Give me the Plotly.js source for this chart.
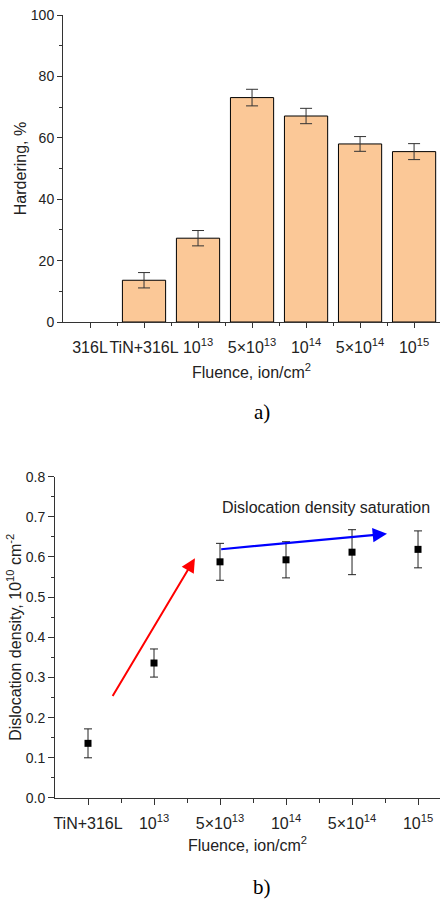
<!DOCTYPE html>
<html>
<head>
<meta charset="utf-8">
<script src="https://cdn.plot.ly/plotly-3.0.1.min.js"></script>
<style>
html,body{margin:0;padding:0;background:#fff;}
#chart{width:440px;height:904px;}
</style>
</head>
<body>
<div id="chart"></div>
<script>
// ---- data (a) Hardering ----
const hardCats = ['316L', 'TiN+316L', '10<sup>13</sup>', '5×10<sup>13</sup>', '10<sup>14</sup>', '5×10<sup>14</sup>', '10<sup>15</sup>'];
const hardVals = [null, 13.6, 27.3, 73.1, 67.1, 58.0, 55.5];
const hardErr  = [null, 2.5, 2.5, 2.7, 2.5, 2.4, 2.6];

// ---- data (b) Dislocation density ----
const dislCats = ['TiN+316L', '10<sup>13</sup>', '5×10<sup>13</sup>', '10<sup>14</sup>', '5×10<sup>14</sup>', '10<sup>15</sup>'];
const dislVals = [0.136, 0.336, 0.588, 0.593, 0.612, 0.619];
const dislErr  = [0.036, 0.035, 0.046, 0.045, 0.056, 0.046];

// arrows (data units of plot b): [start, end]
const redArrowX  = [0.36, 1.62];
const redArrowY  = [0.25, 0.597];
const blueArrowX = [1.995, 4.53];
const blueArrowY = [0.619, 0.658];
const satLabel = 'Dislocation density saturation';

const FONT = 'Arial, "Liberation Sans", sans-serif';
const AX = '#333';
const hardX = hardCats.map((c, i) => i);
const dislX = dislCats.map((c, i) => i);

const traces = [
  {
    type: 'bar', x: hardX, y: hardVals, xaxis: 'x', yaxis: 'y', width: 0.8,
    marker: {color: '#FBC897', line: {color: '#000', width: 1}},
    error_y: {type: 'data', array: hardErr, visible: true, color: '#333', thickness: 1, width: 6},
    hoverinfo: 'skip'
  },
  {
    type: 'scatter', mode: 'markers', x: dislX, y: dislVals, xaxis: 'x2', yaxis: 'y2',
    marker: {symbol: 'square', size: 7, color: '#000'},
    error_y: {type: 'data', array: dislErr, visible: true, color: '#222', thickness: 1, width: 4},
    hoverinfo: 'skip'
  }
];

const commonAx = {
  showline: true, linecolor: AX, linewidth: 1, showgrid: false, zeroline: false,
  ticks: 'outside', tickcolor: AX, tickwidth: 1, fixedrange: true
};

const layout = {
  width: 440, height: 904,
  margin: {l: 0, r: 0, t: 0, b: 0},
  paper_bgcolor: '#fff', plot_bgcolor: '#fff',
  showlegend: false, bargap: 0.2,
  font: {family: FONT, color: '#222'},
  xaxis: Object.assign({}, commonAx, {
    domain: [63/440, 1], range: [-0.5, 6.48], anchor: 'y',
    tickmode: 'array', tickvals: hardX, ticktext: hardCats, ticklen: 5, tickangle: 0,
    tickfont: {size: 16, family: FONT, color: '#222'}, ticklabelstandoff: 6,
    minor: {tickmode: 'array', tickvals: hardX.map(i => i + 0.5), ticks: 'outside', ticklen: 3, tickcolor: AX, tickwidth: 1},
    title: {text: 'Fluence, ion/cm<sup>2</sup>', font: {size: 16, family: FONT, color: '#222'}, standoff: 11}
  }),
  yaxis: Object.assign({}, commonAx, {
    domain: [0.6438, 0.9834], range: [0, 100], anchor: 'x',
    tickmode: 'linear', tick0: 0, dtick: 20, ticklen: 5,
    tickfont: {size: 14, family: FONT, color: '#222'}, ticklabelstandoff: 0,
    minor: {dtick: 10, ticks: 'outside', ticklen: 3, tickcolor: AX, tickwidth: 1},
    title: {text: 'Hardering, %', font: {size: 16, family: FONT, color: '#222'}, standoff: 0}
  }),
  xaxis2: Object.assign({}, commonAx, {
    domain: [55/440, 1], range: [-0.5, 5.333], anchor: 'y2',
    tickmode: 'array', tickvals: dislX, ticktext: dislCats, ticklen: 6, tickangle: 0,
    tickfont: {size: 16, family: FONT, color: '#222'}, ticklabelstandoff: 5,
    minor: {tickmode: 'array', tickvals: dislX.map(i => i + 0.5), ticks: 'outside', ticklen: 4, tickcolor: AX, tickwidth: 1},
    title: {text: 'Fluence, ion/cm<sup>2</sup>', font: {size: 16, family: FONT, color: '#222'}, standoff: 8}
  }),
  yaxis2: Object.assign({}, commonAx, {
    domain: [0.1173, 0.4727], range: [0, 0.8], anchor: 'x2',
    tickmode: 'linear', tick0: 0, dtick: 0.1, ticklen: 6, tickformat: '.1f',
    tickfont: {size: 14, family: FONT, color: '#222'}, ticklabelstandoff: 0,
    minor: {dtick: 0.05, ticks: 'outside', ticklen: 3, tickcolor: AX, tickwidth: 1},
    title: {text: 'Dislocation density, 10<sup>10</sup> cm<sup>-2</sup>', font: {size: 16, family: FONT, color: '#222'}, standoff: 0}
  }),
  annotations: [
    {xref: 'x2', yref: 'y2', axref: 'x2', ayref: 'y2',
     x: redArrowX[1], y: redArrowY[1], ax: redArrowX[0], ay: redArrowY[0],
     showarrow: true, arrowcolor: '#FF0000', arrowwidth: 2, arrowhead: 2, arrowsize: 1.4, text: ''},
    {xref: 'x2', yref: 'y2', axref: 'x2', ayref: 'y2',
     x: blueArrowX[1], y: blueArrowY[1], ax: blueArrowX[0], ay: blueArrowY[0],
     showarrow: true, arrowcolor: '#0000FF', arrowwidth: 2.2, arrowhead: 2, arrowsize: 1.3, text: ''},
    {xref: 'x2', yref: 'y2', x: blueArrowX[0], y: 0.722, xanchor: 'left', yanchor: 'middle',
     text: satLabel, showarrow: false, font: {size: 16, family: FONT, color: '#222'}},
    {xref: 'paper', yref: 'paper', x: 262/440, y: 1 - 412/904, xanchor: 'center', yanchor: 'middle',
     text: 'a)', showarrow: false, font: {size: 21, family: '"Liberation Serif", "Times New Roman", serif', color: '#000'}},
    {xref: 'paper', yref: 'paper', x: 262/440, y: 1 - 887/904, xanchor: 'center', yanchor: 'middle',
     text: 'b)', showarrow: false, font: {size: 21, family: '"Liberation Serif", "Times New Roman", serif', color: '#000'}}
  ]
};

Plotly.newPlot('chart', traces, layout, {displayModeBar: false, staticPlot: true});
</script>
</body>
</html>
